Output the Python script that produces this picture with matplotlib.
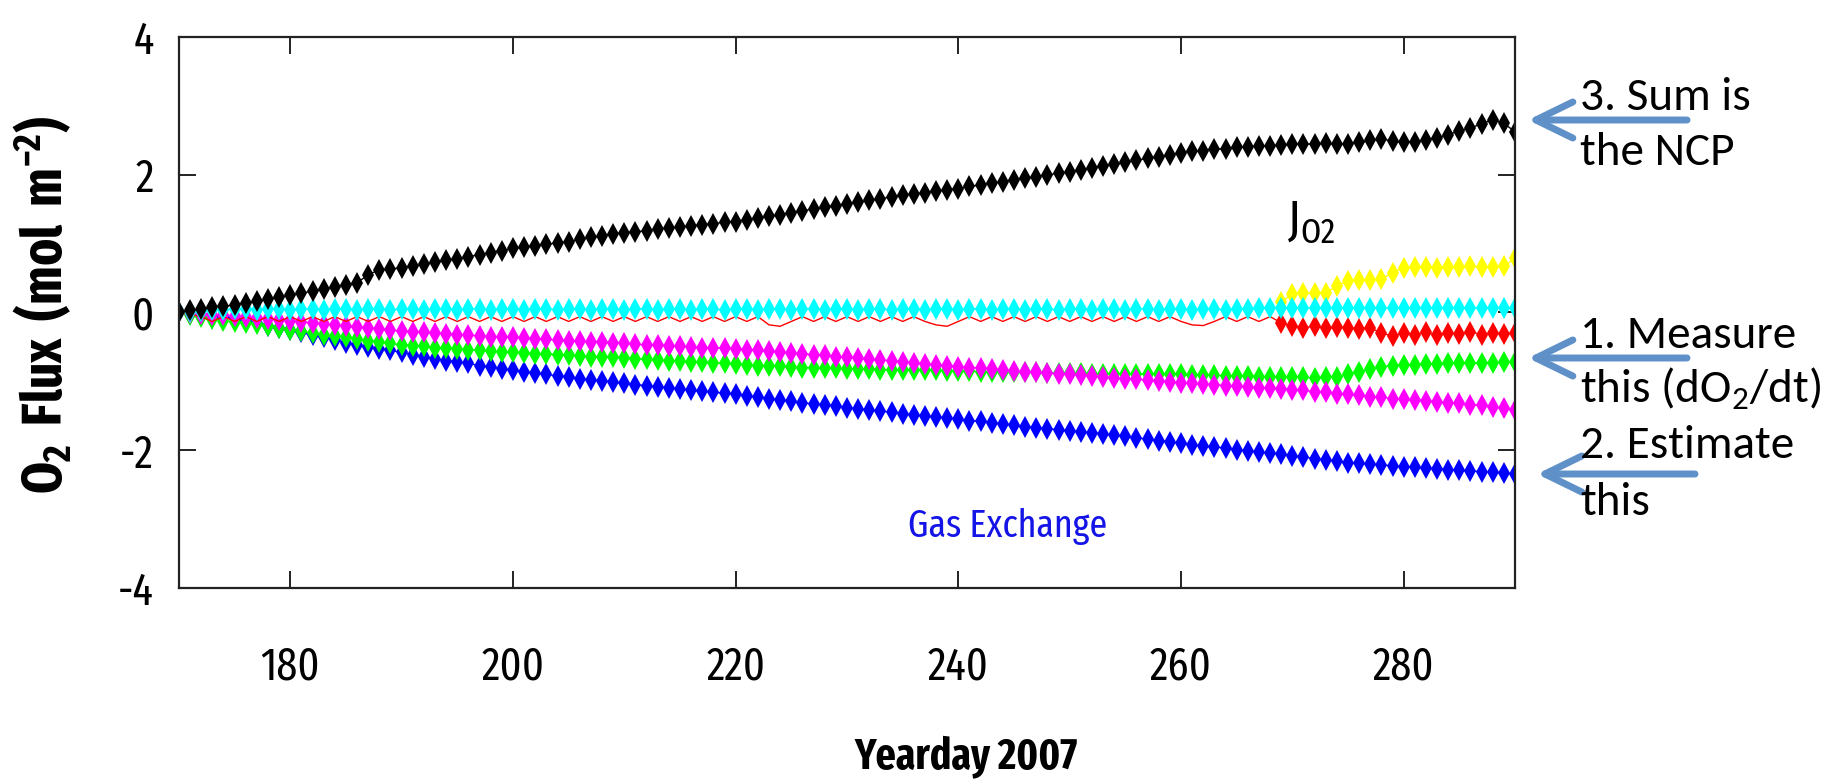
import numpy as np
import matplotlib
matplotlib.use("Agg")
from matplotlib import pyplot as plt

# yearday axis: one sample per day
yearday = np.arange(170, 291)

# cumulative O2 budget terms (mol m-2)
j_o2 = [0.00, 0.03, 0.05, 0.08, 0.09, 0.11, 0.14, 0.16, 0.19, 0.22,
        0.25, 0.28, 0.31, 0.34, 0.37, 0.40, 0.43, 0.55, 0.62, 0.63,
        0.65, 0.67, 0.70, 0.73, 0.76, 0.78, 0.81, 0.84, 0.87, 0.90,
        0.93, 0.95, 0.97, 0.99, 1.01, 1.03, 1.06, 1.09, 1.11, 1.14,
        1.16, 1.17, 1.19, 1.21, 1.23, 1.24, 1.26, 1.27, 1.29, 1.31,
        1.32, 1.35, 1.37, 1.40, 1.42, 1.45, 1.48, 1.50, 1.53, 1.55,
        1.58, 1.60, 1.63, 1.65, 1.68, 1.70, 1.72, 1.74, 1.76, 1.78,
        1.80, 1.83, 1.85, 1.88, 1.90, 1.93, 1.95, 1.97, 2.00, 2.02,
        2.04, 2.07, 2.10, 2.13, 2.15, 2.18, 2.21, 2.24, 2.26, 2.29,
        2.32, 2.34, 2.35, 2.37, 2.38, 2.40, 2.41, 2.42, 2.42, 2.43,
        2.44, 2.45, 2.44, 2.46, 2.44, 2.45, 2.47, 2.50, 2.52, 2.49,
        2.47, 2.48, 2.50, 2.54, 2.58, 2.64, 2.68, 2.74, 2.80, 2.75,
        2.62]

gas_exchange = [0.00, -0.01, -0.02, -0.08, -0.05, -0.10, -0.12, -0.15, -0.19, -0.22,
                -0.26, -0.29, -0.33, -0.36, -0.40, -0.44, -0.47, -0.50, -0.53, -0.55,
                -0.58, -0.61, -0.64, -0.67, -0.70, -0.72, -0.74, -0.77, -0.79, -0.82,
                -0.84, -0.86, -0.88, -0.90, -0.92, -0.94, -0.96, -0.98, -0.99, -1.01,
                -1.03, -1.05, -1.06, -1.08, -1.09, -1.11, -1.13, -1.14, -1.16, -1.17,
                -1.19, -1.21, -1.23, -1.25, -1.27, -1.29, -1.31, -1.33, -1.34, -1.36,
                -1.38, -1.40, -1.42, -1.43, -1.45, -1.47, -1.49, -1.50, -1.52, -1.53,
                -1.55, -1.57, -1.58, -1.60, -1.62, -1.64, -1.66, -1.67, -1.69, -1.70,
                -1.72, -1.73, -1.75, -1.76, -1.78, -1.80, -1.82, -1.84, -1.86, -1.88,
                -1.90, -1.92, -1.94, -1.95, -1.97, -1.99, -2.01, -2.03, -2.04, -2.06,
                -2.08, -2.10, -2.12, -2.14, -2.16, -2.18, -2.19, -2.20, -2.21, -2.23,
                -2.24, -2.25, -2.26, -2.27, -2.28, -2.29, -2.30, -2.31, -2.32, -2.33,
                -2.35]

green_term = [0.00, -0.03, -0.06, -0.09, -0.12, -0.14, -0.15, -0.17, -0.20, -0.22,
              -0.25, -0.27, -0.30, -0.32, -0.34, -0.36, -0.38, -0.41, -0.43, -0.45,
              -0.47, -0.48, -0.49, -0.51, -0.52, -0.53, -0.54, -0.55, -0.56, -0.57,
              -0.58, -0.59, -0.60, -0.60, -0.61, -0.62, -0.63, -0.64, -0.64, -0.65,
              -0.66, -0.67, -0.68, -0.69, -0.70, -0.71, -0.72, -0.72, -0.73, -0.74,
              -0.75, -0.76, -0.77, -0.77, -0.78, -0.79, -0.80, -0.80, -0.81, -0.81,
              -0.82, -0.82, -0.82, -0.83, -0.83, -0.83, -0.84, -0.84, -0.84, -0.85,
              -0.85, -0.85, -0.86, -0.86, -0.87, -0.87, -0.87, -0.87, -0.88, -0.88,
              -0.88, -0.88, -0.89, -0.89, -0.89, -0.89, -0.89, -0.90, -0.90, -0.90,
              -0.90, -0.91, -0.91, -0.91, -0.92, -0.92, -0.92, -0.93, -0.93, -0.94,
              -0.94, -0.94, -0.95, -0.94, -0.94, -0.90, -0.86, -0.82, -0.79, -0.77,
              -0.76, -0.76, -0.75, -0.75, -0.74, -0.74, -0.74, -0.73, -0.73, -0.72,
              -0.72]

magenta_term = [0.00, -0.01, -0.02, -0.03, -0.04, -0.05, -0.07, -0.08, -0.09, -0.11,
                -0.12, -0.14, -0.15, -0.17, -0.18, -0.20, -0.21, -0.23, -0.24, -0.26,
                -0.27, -0.28, -0.29, -0.30, -0.31, -0.32, -0.33, -0.34, -0.35, -0.35,
                -0.36, -0.37, -0.38, -0.39, -0.40, -0.41, -0.42, -0.43, -0.43, -0.44,
                -0.45, -0.46, -0.47, -0.47, -0.48, -0.49, -0.50, -0.51, -0.51, -0.52,
                -0.53, -0.54, -0.55, -0.56, -0.58, -0.59, -0.60, -0.61, -0.62, -0.64,
                -0.65, -0.66, -0.68, -0.69, -0.70, -0.72, -0.73, -0.75, -0.76, -0.77,
                -0.79, -0.80, -0.81, -0.82, -0.84, -0.85, -0.86, -0.87, -0.88, -0.89,
                -0.90, -0.91, -0.92, -0.94, -0.95, -0.96, -0.97, -0.98, -1.00, -1.01,
                -1.02, -1.03, -1.04, -1.05, -1.06, -1.07, -1.08, -1.09, -1.10, -1.11,
                -1.12, -1.13, -1.15, -1.16, -1.18, -1.19, -1.20, -1.22, -1.23, -1.25,
                -1.26, -1.27, -1.28, -1.30, -1.31, -1.32, -1.34, -1.35, -1.37, -1.39,
                -1.42]

red_term = [0.00, -0.03, -0.06, -0.13, -0.06, -0.13, -0.06, -0.13, -0.06, -0.13,
            -0.06, -0.13, -0.06, -0.13, -0.06, -0.13, -0.06, -0.13, -0.06, -0.13,
            -0.06, -0.13, -0.06, -0.13, -0.06, -0.13, -0.06, -0.13, -0.06, -0.13,
            -0.06, -0.13, -0.06, -0.13, -0.06, -0.13, -0.06, -0.13, -0.06, -0.13,
            -0.06, -0.13, -0.06, -0.13, -0.06, -0.13, -0.06, -0.13, -0.06, -0.13,
            -0.06, -0.13, -0.06, -0.18, -0.20, -0.13, -0.06, -0.13, -0.06, -0.13,
            -0.06, -0.13, -0.06, -0.13, -0.06, -0.13, -0.06, -0.13, -0.18, -0.20,
            -0.13, -0.06, -0.13, -0.06, -0.13, -0.06, -0.13, -0.06, -0.13, -0.06,
            -0.13, -0.06, -0.13, -0.06, -0.13, -0.06, -0.13, -0.06, -0.13, -0.06,
            -0.13, -0.18, -0.19, -0.13, -0.06, -0.13, -0.06, -0.13, -0.06, -0.15,
            -0.20, -0.22, -0.20, -0.23, -0.21, -0.22, -0.24, -0.22, -0.30, -0.34,
            -0.30, -0.32, -0.29, -0.33, -0.30, -0.31, -0.28, -0.32, -0.30, -0.31,
            -0.30]

cyan_term = [0.00, 0.01, 0.02, 0.03, 0.04, 0.05, 0.05, 0.04, 0.05, 0.05,
             0.04, 0.05, 0.05, 0.04, 0.05, 0.05, 0.04, 0.05, 0.05, 0.04,
             0.05, 0.05, 0.04, 0.05, 0.05, 0.04, 0.05, 0.05, 0.04, 0.05,
             0.05, 0.04, 0.05, 0.05, 0.04, 0.05, 0.05, 0.04, 0.05, 0.05,
             0.04, 0.05, 0.05, 0.04, 0.05, 0.05, 0.04, 0.05, 0.05, 0.04,
             0.05, 0.05, 0.04, 0.05, 0.05, 0.04, 0.05, 0.05, 0.04, 0.05,
             0.05, 0.04, 0.05, 0.05, 0.04, 0.05, 0.05, 0.04, 0.05, 0.05,
             0.04, 0.05, 0.05, 0.04, 0.05, 0.05, 0.04, 0.05, 0.05, 0.04,
             0.05, 0.05, 0.04, 0.05, 0.05, 0.04, 0.05, 0.05, 0.04, 0.05,
             0.05, 0.04, 0.05, 0.05, 0.04, 0.05, 0.05, 0.06, 0.07, 0.06,
             0.06, 0.07, 0.06, 0.06, 0.07, 0.06, 0.06, 0.07, 0.06, 0.06,
             0.07, 0.06, 0.06, 0.07, 0.06, 0.06, 0.07, 0.06, 0.06, 0.07,
             0.06]

# yellow term only departs from zero after yearday 269
yellow_start = 269
yellow_term = [0.15, 0.27, 0.28, 0.28, 0.29, 0.38, 0.46, 0.47, 0.47, 0.48,
               0.58, 0.65, 0.66, 0.66, 0.65, 0.66, 0.66, 0.67, 0.66, 0.66,
               0.67, 0.79]

narrow = "Fira Sans Extra Condensed"
plt.rcParams["font.family"] = [narrow, "DejaVu Sans"]
plt.rcParams["axes.unicode_minus"] = False
plt.rcParams["mathtext.fontset"] = "custom"
plt.rcParams["mathtext.rm"] = "Carlito"
plt.rcParams["mathtext.sf"] = narrow
plt.rcParams["mathtext.bf"] = narrow + ":bold"

fig = plt.figure(figsize=(18.26, 7.79), dpi=100)
ax = fig.add_axes([0.098, 0.2452, 0.7317, 0.7073])

style = dict(marker="d", markersize=11, linewidth=1.0, markeredgewidth=0)
ax.plot(yearday, gas_exchange, color="#0000ff", **style)
ax.plot(yearday, green_term, color="#00ff00", **style)
ax.plot(yearday, magenta_term, color="#ff00ff", **style)
ax.plot(yearday, red_term, color="#ff0000", markevery=slice(yellow_start - 170, None), **style)
ax.plot(yearday[yellow_start - 170:], yellow_term, color="#ffff00", **style)
ax.plot(yearday, cyan_term, color="#00ffff", **style)
ax.plot(yearday, j_o2, color="#000000", **style)

ax.set_xlim(170, 290)
ax.set_ylim(-4, 4)
ax.set_xticks([180, 200, 220, 240, 260, 280])
ax.set_yticks([-4, -2, 0, 2, 4])
ax.tick_params(direction="in", length=12, width=1.4, top=True, right=True,
               labelsize=33, color="#222222")
ax.tick_params(axis="x", pad=41)
ax.tick_params(axis="y", pad=18)
for spine in ax.spines.values():
    spine.set_linewidth(1.6)
    spine.set_color("#222222")

ax.text(269.5, 1.3, r"$\mathsf{J_{O2}}$", fontsize=36, ha="left", va="center")
ax.text(244.4, -3.1, "Gas Exchange", fontsize=28, color="#1414e6",
        ha="center", va="center")

fig.text(966 / 1826, 22 / 779, "Yearday 2007", fontsize=31, weight="bold",
         ha="center", va="center")
fig.text(43 / 1826, 474 / 779, r"$\mathbf{O_2\ Flux\ (mol\ m^{-2})}$",
         fontsize=40, rotation=90, ha="center", va="center")

# budget notes at the right edge
notes = [("3. Sum is", 669), ("the NCP", 614),
         ("1. Measure", 431), (r"this (dO$_2$/dt)", 376),
         ("2. Estimate", 321), ("this", 264)]
for label, base in notes:
    fig.text(1580 / 1826, base / 779, label, family="Carlito", fontsize=34,
             ha="left", va="baseline")

arrow_props = dict(arrowstyle="->,head_length=2.66,head_width=1.3",
                   mutation_scale=10, lw=5, color="#5f91c8",
                   shrinkA=0, shrinkB=0, capstyle="round", joinstyle="round")
for tip_x, tail_x, y in [(1528, 1687, 659), (1528, 1687, 421), (1537, 1695, 305)]:
    ax.annotate("", xy=(tip_x, y), xytext=(tail_x, y),
                xycoords="figure pixels", textcoords="figure pixels",
                arrowprops=arrow_props, annotation_clip=False)

fig.savefig("out.png", dpi=100)
